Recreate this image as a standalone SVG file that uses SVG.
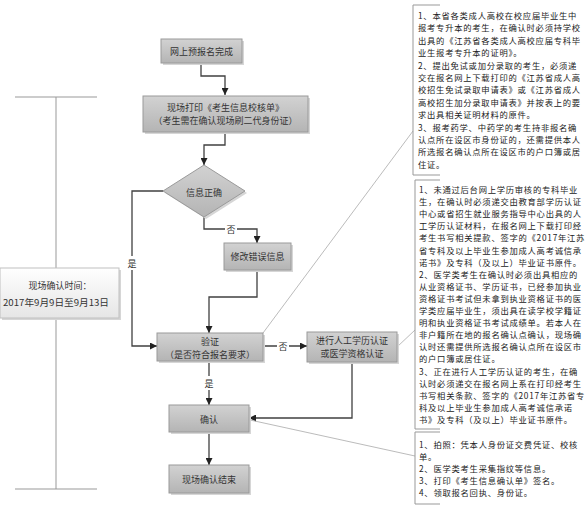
<svg xmlns="http://www.w3.org/2000/svg" width="585" height="525" viewBox="0 0 585 525">
<defs>
<linearGradient id="gray" x1="0" y1="0" x2="0" y2="1">
<stop offset="0" stop-color="#d2d2d2"/>
<stop offset="1" stop-color="#b4b4b4"/>
</linearGradient>
<linearGradient id="white" x1="0" y1="0" x2="0" y2="1">
<stop offset="0" stop-color="#ffffff"/>
<stop offset="1" stop-color="#e6e6e6"/>
</linearGradient>
<marker id="arr" viewBox="0 0 10 10" refX="10" refY="5" markerWidth="7" markerHeight="7" markerUnits="userSpaceOnUse" orient="auto">
<path d="M0,0 L10,5 L0,10 Z" fill="#222"/>
</marker>
</defs>
<style>
.box{fill:url(#gray);stroke:#9a9a9a;stroke-width:1}
.shadow{fill:#d6d6d6}
.t{font-family:"Noto Sans CJK SC","Liberation Sans",sans-serif;font-size:9px;fill:#333;text-anchor:middle;dominant-baseline:central}
.note{font-family:"Noto Sans CJK SC","Liberation Sans",sans-serif;font-size:8.3px;letter-spacing:0.75px;fill:#222;dominant-baseline:central}
.c{fill:none;stroke:#404040;stroke-width:1.3}
.lbl{font-family:"Noto Sans CJK SC","Liberation Sans",sans-serif;font-size:9px;fill:#333;text-anchor:middle;dominant-baseline:central}
.br{fill:none;stroke:#999;stroke-width:1}
.dg{fill:none;stroke:#aaa;stroke-width:0.8}
</style>
<rect width="585" height="525" fill="#fff"/>

<g id="timeline">
<path class="br" d="M15,97 H97 M56,97 V489 M15,489 H97" stroke="#c8c8c8"/>
</g>
<g id="time-box">
<rect class="shadow" x="2" y="270" width="119" height="50"/>
<rect x="0" y="268" width="119" height="50" fill="url(#white)" stroke="#c0c0c0"/>
<text class="t" x="60" y="285.5" font-size="11">现场确认时间：</text>
<text class="t" x="56" y="302" font-size="11" textLength="106" lengthAdjust="spacingAndGlyphs">2017年9月9日至9月13日</text>
</g>

<g id="connectors">
<path class="c" d="M201,63 V76 H225 V95" marker-end="url(#arr)"/>
<path class="c" d="M225,132 V145 H204 V165" marker-end="url(#arr)"/>
<path class="c" d="M163,191 H132 V346 H157" marker-end="url(#arr)"/>
<path class="c" d="M204,217 V229 H257 V243" marker-end="url(#arr)"/>
<path class="c" d="M257,270 V297 H209 V333" marker-end="url(#arr)"/>
<path class="c" d="M263,346 H307" marker-end="url(#arr)"/>
<path class="c" d="M209,361 V405" marker-end="url(#arr)"/>
<path class="c" d="M352,362 V418 H249" marker-end="url(#arr)"/>
<path class="c" d="M209,432 V465" marker-end="url(#arr)"/>
<rect x="126" y="256" width="12" height="14" fill="#fff"/>
<text class="lbl" x="132" y="263">是</text>
<rect x="225" y="223" width="12" height="12" fill="#fff"/>
<text class="lbl" x="231" y="229">否</text>
<rect x="277" y="340" width="12" height="12" fill="#fff"/>
<text class="lbl" x="283" y="346">否</text>
<rect x="203" y="376" width="12" height="14" fill="#fff"/>
<text class="lbl" x="209" y="383">是</text>
<path class="dg" d="M263,333 L413,131"/>
<path class="dg" d="M397,347 L415,330"/>
<path class="dg" d="M250,420 L415,456"/>
</g>

<g id="n1">
<rect class="shadow" x="163" y="41" width="81" height="24"/>
<rect class="box" x="161" y="39" width="81" height="24"/>
<text class="t" x="201.5" y="51">网上预报名完成</text>
</g>
<g id="n2">
<rect class="shadow" x="145" y="98" width="165" height="36"/>
<rect class="box" x="143" y="96" width="165" height="36"/>
<text class="t" x="225.5" y="107.5">现场打印《考生信息校核单》</text>
<text class="t" x="225.5" y="120.5">（考生需在确认现场刷二代身份证）</text>
</g>
<g id="n3">
<path d="M206,167 L247,193 L206,219 L165,193 Z" fill="#d6d6d6"/>
<path class="box" d="M204,165 L245,191 L204,217 L163,191 Z"/>
<text class="t" x="204" y="192">信息正确</text>
</g>
<g id="n4">
<rect class="shadow" x="226" y="245" width="67" height="27"/>
<rect class="box" x="224" y="243" width="67" height="27"/>
<text class="t" x="257.5" y="256.5">修改错误信息</text>
</g>
<g id="n5">
<rect class="shadow" x="159" y="335" width="106" height="28"/>
<rect class="box" x="157" y="333" width="106" height="28"/>
<text class="t" x="210" y="341">验证</text>
<text class="t" x="210" y="354">（是否符合报名要求）</text>
</g>
<g id="n6">
<rect class="shadow" x="309" y="334" width="90" height="30"/>
<rect class="box" x="307" y="332" width="90" height="30"/>
<text class="t" x="352" y="340.5">进行人工学历认证</text>
<text class="t" x="352" y="353.5">或医学资格认证</text>
</g>
<g id="n7">
<rect class="shadow" x="171" y="407" width="80" height="27"/>
<rect class="box" x="169" y="405" width="80" height="27"/>
<text class="t" x="209" y="419">确认</text>
</g>
<g id="n8">
<rect class="shadow" x="171" y="467" width="80" height="28"/>
<rect class="box" x="169" y="465" width="80" height="28"/>
<text class="t" x="209" y="479">现场确认结束</text>
</g>

<g id="note1">
<path class="br" d="M440,5 H413 V175 H440"/>
<text class="note" x="418">
<tspan x="418" y="15">1、本省各类成人高校在校应届毕业生中</tspan>
<tspan x="418" y="27.4">报考专升本的考生，在确认时必须持学校</tspan>
<tspan x="418" y="39.8">出具的《江苏省各类成人高校应届专科毕</tspan>
<tspan x="418" y="52.2">业生报考专升本的证明》。</tspan>
<tspan x="418" y="64.6">2、提出免试或加分录取的考生，必须递</tspan>
<tspan x="418" y="77">交在报名网上下载打印的《江苏省成人高</tspan>
<tspan x="418" y="89.4">校招生免试录取申请表》或《江苏省成人</tspan>
<tspan x="418" y="101.8">高校招生加分录取申请表》并按表上的要</tspan>
<tspan x="418" y="114.2">求出具相关证明材料的原件。</tspan>
<tspan x="418" y="126.6">3、报考药学、中药学的考生持非报名确</tspan>
<tspan x="418" y="139">认点所在设区市身份证的，还需提供本人</tspan>
<tspan x="418" y="151.4">所选报名确认点所在设区市的户口簿或居</tspan>
<tspan x="418" y="163.8">住证。</tspan>
</text>
</g>
<g id="note2">
<path class="br" d="M440,180 H415 V429 H440"/>
<text class="note" x="419">
<tspan x="419" y="189">1、未通过后台网上学历审核的专科毕业</tspan>
<tspan x="419" y="201.1">生，在确认时必须递交由教育部学历认证</tspan>
<tspan x="419" y="213.2">中心或省招生就业服务指导中心出具的人</tspan>
<tspan x="419" y="225.3">工学历认证材料，在报名网上下载打印经</tspan>
<tspan x="419" y="237.4">考生书写相关提款、签字的《2017年江苏</tspan>
<tspan x="419" y="249.5">省专科及以上毕业生参加成人高考诚信承</tspan>
<tspan x="419" y="261.6">诺书》及专科（及以上）毕业证书原件。</tspan>
<tspan x="419" y="273.7">2、医学类考生在确认时必须出具相应的</tspan>
<tspan x="419" y="285.8">从业资格证书、学历证书，已经参加执业</tspan>
<tspan x="419" y="297.9">资格证书考试但未拿到执业资格证书的医</tspan>
<tspan x="419" y="310">学类应届毕业生，须出具在读学校学籍证</tspan>
<tspan x="419" y="322.1">明和执业资格证书考试成绩单。若本人在</tspan>
<tspan x="419" y="334.2">非户籍所在地的报名确认点确认，现场确</tspan>
<tspan x="419" y="346.3">认时还需提供所选报名确认点所在设区市</tspan>
<tspan x="419" y="358.4">的户口簿或居住证。</tspan>
<tspan x="419" y="370.5">3、正在进行人工学历认证的考生，在确</tspan>
<tspan x="419" y="382.6">认时必须递交在报名网上系在打印经考生</tspan>
<tspan x="419" y="394.7">书写相关条款、签字的《2017年江苏省专</tspan>
<tspan x="419" y="406.8">科及以上毕业生参加成人高考诚信承诺</tspan>
<tspan x="419" y="418.9">书》及专科（及以上）毕业证书原件。</tspan>
</text>
</g>
<g id="note3">
<path class="br" d="M440,432 H415 V504 H440"/>
<text class="note" x="419">
<tspan x="419" y="443.5">1、拍照：凭本人身份证交费凭证、校核</tspan>
<tspan x="419" y="455.6">单。</tspan>
<tspan x="419" y="467.7">2、医学类考生采集指纹等信息。</tspan>
<tspan x="419" y="479.8">3、打印《考生信息确认单》签名。</tspan>
<tspan x="419" y="491.9">4、领取报名回执、身份证。</tspan>
</text>
</g>
</svg>
